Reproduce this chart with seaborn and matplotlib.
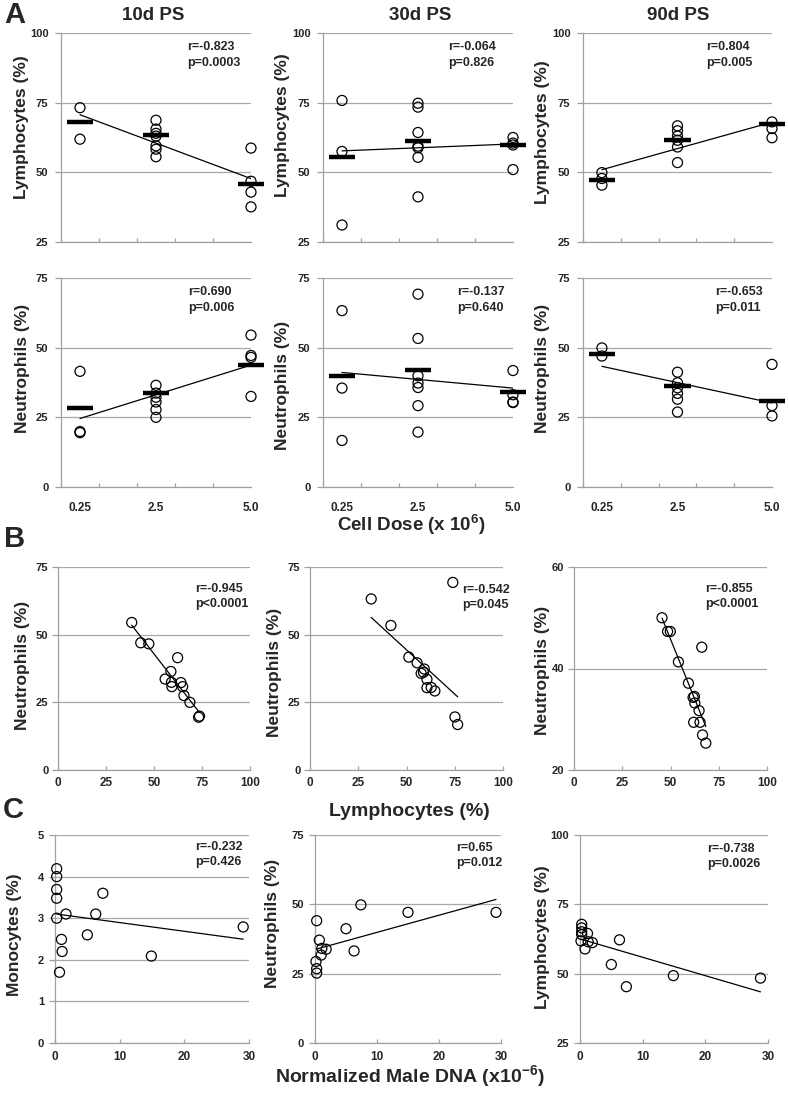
import numpy as np
import matplotlib
matplotlib.use("Agg")
import matplotlib.pyplot as plt
import seaborn as sns

# ---------------- data ----------------
dose_pos = [0.5, 2.5, 5.0]
dose_labels = ["0.25", "2.5", "5.0"]
titles = ["10d PS", "30d PS", "90d PS"]

lym_10d = [[73.2, 61.9], [68.7, 65.5, 64.0, 63.0, 59.5, 58.3, 55.6], [58.7, 46.8, 42.9, 37.6]]
lym_30d = [[75.8, 57.5, 31.1], [74.8, 73.4, 64.3, 59.4, 58.8, 55.4, 41.2], [62.5, 60.5, 59.8, 51.0]]
lym_90d = [[49.9, 47.8, 45.4], [66.7, 64.9, 63.0, 61.5, 59.1, 53.5], [68.1, 65.7, 62.4]]
lym_mean_10d = [68.2, 63.5, 45.8]
lym_mean_30d = [55.5, 61.3, 59.7]
lym_mean_90d = [47.4, 61.5, 67.2]

neu_10d = [[41.5, 19.9, 19.5], [36.5, 33.7, 32.2, 30.5, 27.8, 25.0], [54.5, 47.2, 46.5, 32.5]]
neu_30d = [[63.3, 35.5, 16.7], [69.2, 53.3, 39.9, 37.3, 35.7, 29.2, 19.7], [41.8, 33.1, 30.3, 30.5]]
neu_90d = [[49.9, 47.0], [41.2, 37.4, 35.6, 33.6, 31.5, 26.9], [44.0, 29.2, 25.5]]
neu_mean_10d = [28.3, 33.6, 43.8]
neu_mean_30d = [40.0, 42.0, 34.1]
neu_mean_90d = [47.7, 36.2, 31.0]

b1_lym = [38.4, 43.1, 47.3, 62.3, 58.8, 55.8, 59.1, 59.3, 64.0, 64.9, 65.6, 68.7, 73.7, 73.2]
b1_neu = [54.5, 47.0, 46.6, 41.5, 36.4, 33.6, 32.4, 30.8, 32.3, 30.8, 27.5, 25.0, 19.9, 19.5]
b2_lym = [74.0, 31.7, 41.9, 51.2, 55.5, 59.2, 57.6, 58.8, 60.6, 60.6, 62.8, 64.7, 75.1, 76.5]
b2_neu = [69.3, 63.2, 53.4, 41.7, 39.6, 37.3, 35.7, 36.1, 33.5, 30.4, 30.5, 29.2, 19.6, 16.8]
b3_lym = [45.6, 48.5, 49.9, 66.2, 54.1, 59.3, 61.7, 62.4, 62.6, 64.8, 62.0, 65.3, 66.6, 68.3]
b3_neu = [50.0, 47.3, 47.3, 44.2, 41.3, 37.1, 34.3, 34.5, 33.2, 31.7, 29.4, 29.4, 26.9, 25.3]

c1_dna = [0.26, 0.26, 0.26, 0.26, 0.26, 1.0, 1.1, 0.7, 1.7, 5.0, 6.3, 7.4, 14.9, 29.1]
c1_mono = [4.19, 4.0, 3.69, 3.48, 3.0, 2.49, 2.2, 1.7, 3.1, 2.6, 3.1, 3.6, 2.09, 2.79]
c2_dna = [0.27, 0.16, 0.27, 0.27, 0.7, 1.1, 1.0, 1.8, 5.0, 6.3, 7.4, 15.0, 29.2]
c2_neu = [44.1, 29.4, 26.8, 25.2, 37.1, 34.1, 31.7, 33.8, 41.2, 33.2, 49.8, 47.1, 47.1]
c3_dna = [0.27, 0.27, 0.27, 0.27, 1.2, 0.16, 0.8, 1.3, 1.97, 5.0, 6.3, 7.4, 14.9, 28.8]
c3_lym = [67.8, 66.5, 65.1, 64.1, 64.5, 61.8, 58.9, 61.5, 61.2, 53.3, 62.2, 45.3, 49.3, 48.4]

rp_A_lym = ["r=-0.823\np=0.0003", "r=-0.064\np=0.826", "r=0.804\np=0.005"]
rp_A_neu = ["r=0.690\np=0.006", "r=-0.137\np=0.640", "r=-0.653\np=0.011"]
rp_B = ["r=-0.945\np<0.0001", "r=-0.542\np=0.045", "r=-0.855\np<0.0001"]
rp_C = ["r=-0.232\np=0.426", "r=0.65\np=0.012", "r=-0.738\np=0.0026"]

# ---------------- style ----------------
sns.set_theme(style="white")
plt.rcParams['font.family'] = ['Liberation Sans', 'DejaVu Sans']
plt.rcParams['font.weight'] = 'bold'
plt.rcParams['mathtext.fontset'] = 'custom'
plt.rcParams['mathtext.rm'] = 'Liberation Sans:bold'
plt.rcParams['mathtext.bf'] = 'Liberation Sans:bold'
plt.rcParams['mathtext.it'] = 'Liberation Sans:bold'

GRID = '#A8A8A8'
SPINE = '#A0A0A0'
W, H = 788, 1094
fig = plt.figure(figsize=(W / 100, H / 100), dpi=100, facecolor='white')


def add_ax(l, t, r, b):
    return fig.add_axes([l / W, 1 - b / H, (r - l) / W, (b - t) / H])


def ftext(x, y, s, **kw):
    fig.text(x / W, 1 - y / H, s, ha='center', va='center', fontweight='bold', **kw)


def base_style(ax, ylim, yticks, ytick_pad):
    ax.set_ylim(ylim)
    ax.set_yticks(yticks)
    ax.yaxis.grid(True, color=GRID, lw=0.9)
    ax.xaxis.grid(False)
    ax.set_axisbelow(True)
    ax.set_facecolor('white')
    for s in ['top', 'right']:
        ax.spines[s].set_visible(False)
    for s in ['left', 'bottom']:
        ax.spines[s].set_color(SPINE)
        ax.spines[s].set_linewidth(0.9)
    ax.tick_params(axis='y', direction='out', length=4, width=0.9, color=SPINE,
                   labelsize=8, pad=ytick_pad, left=True)
    ax.set_xlabel('')
    ax.set_ylabel('')


def points(ax, x, y):
    sns.regplot(x=np.asarray(x, float), y=np.asarray(y, float), ax=ax, scatter=False, ci=None,
                truncate=True, color='black', line_kws=dict(lw=0.9, zorder=2))
    sns.scatterplot(x=np.asarray(x, float), y=np.asarray(y, float), ax=ax, s=52, marker='o',
                    facecolor='none', edgecolor='black', linewidth=0.9, clip_on=False,
                    zorder=3, legend=False)


def dose_panel(ax, groups, means, ylim, yticks, rp, rp_xy, show_labels):
    x = np.concatenate([[p] * len(g) for p, g in zip(dose_pos, groups)])
    y = np.concatenate(groups)
    points(ax, x, y)
    pos = np.asarray(dose_pos)
    ax.hlines(means, pos - 0.35, pos + 0.35, colors='black', lw=3.2, zorder=4, clip_on=False)
    base_style(ax, ylim, yticks, 5)
    ax.set_xlim(0, 5)
    ax.set_xticks(dose_pos)
    ax.set_xticklabels(dose_labels if show_labels else [])
    ax.set_xticks(np.arange(0, 6), minor=True)
    ax.tick_params(axis='x', which='major', length=0, labelsize=8.5, pad=11, bottom=True)
    ax.tick_params(axis='x', which='minor', direction='in', length=3, width=0.9, color=SPINE, bottom=True)
    ax.text(rp_xy[0], rp_xy[1], rp, transform=ax.transAxes, ha='left', va='top',
            fontsize=9, fontweight='bold', linespacing=1.35)


def scatter_panel(ax, x, y, xlim, xticks, ylim, yticks, rp, rp_xy, xpad, ypad):
    points(ax, x, y)
    base_style(ax, ylim, yticks, ypad)
    ax.set_xlim(xlim)
    ax.set_xticks(xticks)
    ax.tick_params(axis='x', direction='in', length=3, width=0.9, color=SPINE,
                   labelsize=8.5, pad=xpad, bottom=True)
    ax.text(rp_xy[0], rp_xy[1], rp, transform=ax.transAxes, ha='left', va='top',
            fontsize=9, fontweight='bold', linespacing=1.35)


colsA = [(61, 251), (323, 513), (583, 772)]

# Row A1: lymphocytes
lym_sets = [(lym_10d, lym_mean_10d), (lym_30d, lym_mean_30d), (lym_90d, lym_mean_90d)]
rpA1_xy = [(0.665, 0.96), (0.66, 0.96), (0.65, 0.96)]
for i, ((l, r), (g, m)) in enumerate(zip(colsA, lym_sets)):
    ax = add_ax(l, 33, r, 242)
    dose_panel(ax, g, m, (25, 100), [25, 50, 75, 100], rp_A_lym[i], rpA1_xy[i], False)

# Row A2: neutrophils
neu_sets = [(neu_10d, neu_mean_10d), (neu_30d, neu_mean_30d), (neu_90d, neu_mean_90d)]
rpA2_xy = [(0.67, 0.96), (0.705, 0.96), (0.70, 0.96)]
for i, ((l, r), (g, m)) in enumerate(zip(colsA, neu_sets)):
    ax = add_ax(l, 278, r, 487)
    dose_panel(ax, g, m, (0, 75), [0, 25, 50, 75], rp_A_neu[i], rpA2_xy[i], True)

# Row B
axB1 = add_ax(58, 567, 250, 770)
scatter_panel(axB1, b1_lym, b1_neu, (0, 100), [0, 25, 50, 75, 100], (0, 75), [0, 25, 50, 75],
              rp_B[0], (0.715, 0.92), 5, 3)
axB2 = add_ax(310, 567, 503, 770)
scatter_panel(axB2, b2_lym, b2_neu, (0, 100), [0, 25, 50, 75, 100], (0, 75), [0, 25, 50, 75],
              rp_B[1], (0.79, 0.915), 5, 3)
axB3 = add_ax(574, 567, 767, 770)
scatter_panel(axB3, b3_lym, b3_neu, (0, 100), [0, 25, 50, 75, 100], (20, 60), [20, 40, 60],
              rp_B[2], (0.68, 0.92), 5, 3)

# Row C
axC1 = add_ax(55, 835, 249, 1043)
scatter_panel(axC1, c1_dna, c1_mono, (0, 30), [0, 10, 20, 30], (0, 5), [0, 1, 2, 3, 4, 5],
              rp_C[0], (0.72, 0.97), 6, 4)
axC2 = add_ax(315, 835, 501, 1043)
scatter_panel(axC2, c2_dna, c2_neu, (0, 30), [0, 10, 20, 30], (0, 75), [0, 25, 50, 75],
              rp_C[1], (0.76, 0.965), 6, 4)
axC3 = add_ax(580, 835, 768, 1043)
scatter_panel(axC3, c3_dna, c3_lym, (0, 30), [0, 10, 20, 30], (25, 100), [25, 50, 75, 100],
              rp_C[2], (0.675, 0.96), 6, 4)

# ---------------- figure texts ----------------
ftext(15, 15, "A", fontsize=21)
ftext(15, 539, "B", fontsize=21)
ftext(13, 810, "C", fontsize=21)
for x, t in zip([153, 420, 678], titles):
    ftext(x, 15, t, fontsize=13.5)

for x, y in [(22, 127), (283, 125), (542, 132)]:
    ftext(x, y, "Lymphocytes (%)", fontsize=12.5, rotation=90)
for x, y in [(23, 368), (283, 385), (542, 368)]:
    ftext(x, y, "Neutrophils (%)", fontsize=12.5, rotation=90)
for x, y in [(23, 665), (275, 672), (542, 670)]:
    ftext(x, y, "Neutrophils (%)", fontsize=12.5, rotation=90)
ftext(15, 935, "Monocytes (%)", fontsize=12.5, rotation=90)
ftext(273, 923, "Neutrophils (%)", fontsize=12.5, rotation=90)
ftext(542, 937, "Lymphocytes (%)", fontsize=12.5, rotation=90)

ftext(411, 525, r"Cell Dose (x 10$^{6}$)", fontsize=13.5)
ftext(409, 812, "Lymphocytes (%)", fontsize=14)
ftext(410, 1076, r"Normalized Male DNA (x10$^{-6}$)", fontsize=14)

fig.savefig("out.png", dpi=100, facecolor='white')
